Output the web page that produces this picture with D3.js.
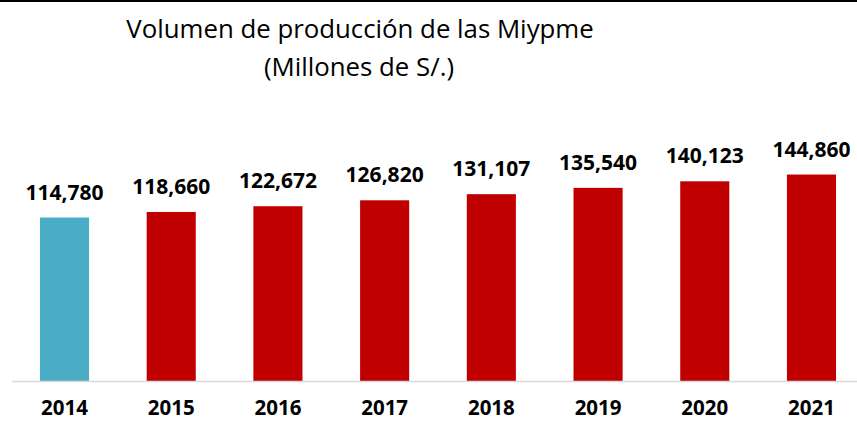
<!DOCTYPE html>
<html><head><meta charset="utf-8">
<script src="https://cdn.jsdelivr.net/npm/d3@7"></script>
<style>html,body{margin:0;padding:0;background:#fff;overflow:hidden}</style>
</head><body>
<svg id="chart" width="857" height="421"></svg>
<script>
const years = ["2014","2015","2016","2017","2018","2019","2020","2021"];
const values = [114780,118660,122672,126820,131107,135540,140123,144860];
const barColors = ["#4BACC6","#C00000","#C00000","#C00000","#C00000","#C00000","#C00000","#C00000"];
const titleLines = ["Volumen de producción de las Miypme","(Millones de S/.)"];

const svg = d3.select("#chart");
const baseY = 381.5;
const x = d3.scaleBand().domain(years).range([12, 864]).paddingInner(0.54).paddingOuter(0.262);
const y = d3.scaleLinear().domain([0,160000]).range([baseY, baseY - 228.6]);

svg.append("rect").attr("x",0).attr("y",0).attr("width",857).attr("height",2).attr("fill","#000");

svg.append("text").attr("x",360).attr("y",38).attr("text-anchor","middle")
  .attr("font-family","Open Sans").attr("font-size",25.8).attr("fill","#000").text(titleLines[0]);
svg.append("text").attr("x",359).attr("y",75.5).attr("text-anchor","middle")
  .attr("font-family","Open Sans").attr("font-size",25.8).attr("fill","#000").text(titleLines[1]);

svg.selectAll("rect.bar").data(values).join("rect").attr("class","bar")
  .attr("x",(d,i)=>x(years[i])).attr("width",x.bandwidth())
  .attr("y",d=>y(d)).attr("height",d=>baseY-y(d))
  .attr("fill",(d,i)=>barColors[i]);

svg.append("line").attr("x1",12).attr("x2",857).attr("y1",baseY).attr("y2",baseY)
  .attr("stroke","#D9D9D9").attr("stroke-width",1.5);

const fmt = d3.format(",");
svg.selectAll("text.val").data(values).join("text").attr("class","val")
  .attr("x",(d,i)=>x(years[i])+x.bandwidth()/2).attr("y",d=>y(d)-18)
  .attr("text-anchor","middle").attr("font-family","Open Sans").attr("font-weight","bold")
  .attr("font-size",21).attr("fill","#000").text(d=>fmt(d));

const xAxis = d3.axisBottom(x).tickSize(0).tickPadding(0);
const ga = svg.append("g").attr("transform",`translate(0,${baseY})`).call(xAxis);
ga.select(".domain").remove();
ga.selectAll("text").attr("dy",null).attr("y",33.5).attr("font-family","Open Sans").attr("font-weight","bold")
  .attr("font-size",20.5).attr("fill","#000");
</script>
</body></html>
